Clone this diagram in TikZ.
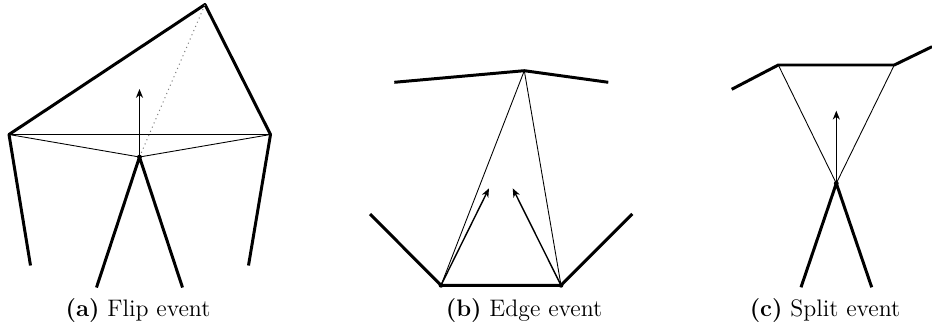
\documentclass[tikz,border=0pt]{standalone}
\usetikzlibrary{arrows.meta}
\tikzset{
  every picture/.style={x=0.02cm, y=-0.02cm, line join=round},
  wall/.style={line width=1.7pt},
  spoke/.style={line width=0.5pt},
  motion/.style={-{Stealth[length=5pt,width=4pt,inset=1.5pt]}, line width=0.8pt},
  ghost/.style={dotted, gray, line width=0.6pt},
  caption/.style={font=\fontsize{13.6}{16}\selectfont, inner sep=0pt},
}
\newcommand{\vtx}[1]{\fill (#1) circle[radius=2.4];}

\begin{document}
\begin{tikzpicture}
  \useasboundingbox (0,0) rectangle (932,328);
  % (a) flip event
  \coordinate (aT) at (205,4.5);
  \coordinate (aL) at (9,134.5);
  \coordinate (aR) at (270.5,134.5);
  \coordinate (aC) at (139.5,157);
  \coordinate (aTip) at (139.5,89);
  \coordinate (aLL) at (30.5,265.5);
  \coordinate (aRL) at (248.5,265.5);
  \coordinate (aCL) at (96.5,287.5);
  \coordinate (aCR) at (182.5,287.5);
  \draw[wall] (aLL) -- (aL) -- (aT) -- (aR) -- (aRL);
  \draw[wall] (aCL) -- (aC) -- (aCR);
  \draw[spoke] (aL) -- (aR);
  \draw[spoke] (aL) -- (aC) -- (aR);
  \draw[ghost] (aC) -- (aT);
  \draw[motion] (aC) -- (aTip);
  \vtx{aC}
  \node[caption] (capa) at (138,311) {\textbf{(a)} Flip event};
  % (b) edge event
  \coordinate (bA) at (524.3,70.7);
  \coordinate (bTL) at (394.3,82.3);
  \coordinate (bTR) at (608.3,82.3);
  \coordinate (bL) at (441,285.3);
  \coordinate (bR) at (561,285.3);
  \coordinate (bLL) at (370,214);
  \coordinate (bRL) at (632.3,214);
  \coordinate (bTipL) at (489,188.3);
  \coordinate (bTipR) at (512.7,188.3);
  \draw[wall] (bTL) -- (bA) -- (bTR);
  \draw[wall] (bLL) -- (bL) -- (bR) -- (bRL);
  \draw[spoke] (bL) -- (bA) -- (bR);
  \draw[motion] (bL) -- (bTipL);
  \draw[motion] (bR) -- (bTipR);
  \vtx{bL} \vtx{bR}
  \node[caption] (capb) at (524,311) {\textbf{(b)} Edge event};
  % (c) split event
  \coordinate (cFL) at (731.7,89.3);
  \coordinate (cL) at (778.3,65);
  \coordinate (cR) at (894.3,65);
  \coordinate (cFR) at (932,46.7);
  \coordinate (cC) at (836.3,183.3);
  \coordinate (cTip) at (836.3,110.7);
  \coordinate (cCL) at (801,287.3);
  \coordinate (cCR) at (871.7,287.3);
  \draw[wall] (cFL) -- (cL) -- (cR) -- (cFR);
  \draw[wall] (cCL) -- (cC) -- (cCR);
  \draw[spoke] (cL) -- (cC) -- (cR);
  \draw[motion] (cC) -- (cTip);
  \vtx{cC}
  \node[caption] (capc) at (825,311) {\textbf{(c)} Split event};
\end{tikzpicture}
\end{document}
